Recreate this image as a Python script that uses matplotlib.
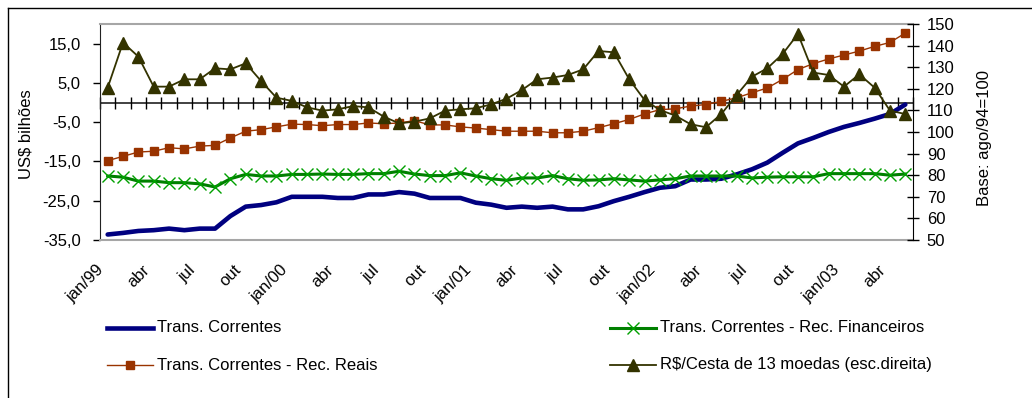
import numpy as np
import matplotlib.pyplot as plt
from matplotlib.lines import Line2D
from matplotlib.ticker import FuncFormatter
import matplotlib.transforms as mtransforms

plt.rcParams['font.family'] = ['Liberation Sans', 'DejaVu Sans']
plt.rcParams['font.size'] = 12

# monthly series, jan/99 .. mai/03
tick_labels = ['jan/99', 'abr', 'jul', 'out', 'jan/00', 'abr', 'jul', 'out',
               'jan/01', 'abr', 'jul', 'out', 'jan/02', 'abr', 'jul', 'out',
               'jan/03', 'abr']

trans_correntes = [-33.6, -33.2, -32.7, -32.5, -32.1, -32.5, -32.1, -32.1, -28.9, -26.5,
                   -26.1, -25.4, -24.0, -24.0, -24.0, -24.3, -24.3, -23.4, -23.4, -22.8,
                   -23.2, -24.3, -24.3, -24.3, -25.5, -26.0, -26.8, -26.5, -26.8, -26.5,
                   -27.2, -27.2, -26.4, -25.1, -24.0, -22.8, -21.7, -21.3, -19.6, -19.6,
                   -19.4, -18.3, -17.0, -15.3, -12.8, -10.4, -9.0, -7.5, -6.2, -5.2,
                   -4.1, -2.9, -0.5]

rec_financeiros = [-18.7, -19.0, -20.0, -20.0, -20.4, -20.4, -20.7, -21.5, -19.4, -18.3,
                   -18.7, -18.7, -18.3, -18.3, -18.2, -18.3, -18.3, -18.1, -18.1, -17.5,
                   -18.2, -18.6, -18.6, -17.9, -18.7, -19.4, -19.8, -19.2, -19.2, -18.6,
                   -19.4, -19.8, -19.7, -19.4, -19.7, -20.0, -19.7, -19.4, -18.7, -18.7,
                   -18.7, -18.7, -19.2, -19.0, -18.9, -18.9, -18.9, -18.1, -18.1, -18.1,
                   -18.1, -18.5, -18.2]

rec_reais = [-14.8, -13.7, -12.6, -12.4, -11.5, -11.8, -11.1, -10.9, -9.0, -7.3,
             -6.9, -6.2, -5.5, -5.6, -5.9, -5.6, -5.6, -5.2, -5.4, -5.2,
             -4.6, -5.7, -5.7, -6.2, -6.5, -6.9, -7.3, -7.3, -7.3, -7.7,
             -7.7, -7.3, -6.4, -5.4, -4.3, -2.9, -1.8, -1.6, -0.9, -0.5,
             0.3, 1.2, 2.5, 3.7, 5.9, 8.4, 9.9, 11.1, 12.1, 13.1,
             14.3, 15.3, 17.7]

cesta_13 = [120.5, 141.4, 134.9, 121.0, 121.0, 124.4, 124.4, 129.5, 129.0, 131.8,
            123.6, 115.9, 114.4, 111.4, 109.9, 110.5, 112.0, 111.4, 107.1, 104.0,
            104.8, 106.3, 109.9, 110.5, 111.0, 112.8, 115.4, 119.4, 124.4, 125.2,
            126.4, 129.0, 137.5, 136.9, 124.4, 114.8, 110.2, 107.6, 103.6, 102.2,
            108.3, 117.1, 125.6, 129.5, 136.1, 145.4, 127.5, 126.4, 121.0, 126.7,
            120.5, 109.9, 108.3]

W, H = 1032, 398


def fx(px):
    return px / W


def fy(py):
    return 1 - py / H


fig = plt.figure(figsize=(W / 100, H / 100), dpi=100)
fig.patch.set_facecolor('white')

# chart frame (left and top edges)
fig.add_artist(Line2D([fx(8), 1], [fy(8), fy(8)], color='black', lw=1))
fig.add_artist(Line2D([fx(8), fx(8)], [fy(8), 0], color='black', lw=1))

ax = fig.add_axes([fx(100), fy(240), (913 - 100) / W, (240 - 24) / H])
x = np.arange(len(trans_correntes))

ax.plot(x, trans_correntes, color='#000080', lw=3.3, solid_capstyle='round', zorder=3)
ax.plot(x, rec_financeiros, color='#008000', lw=2.2, marker='x', ms=8.5,
        mec='#00a000', mew=1.0, zorder=4)
ax.plot(x, rec_reais, color='#993300', lw=1.0, marker='s', ms=6.3,
        mec='#993300', mfc='#993300', zorder=5)

ax.set_xlim(-0.5, len(x) - 0.5)
ax.set_ylim(-35, 20)
ax.set_yticks(np.arange(-35, 20, 10))
ax.yaxis.set_major_formatter(FuncFormatter(lambda v, p: f'{v:.1f}'.replace('.', ',')))
ax.tick_params(axis='y', direction='out', length=5, width=1, pad=9, labelsize=12)

# category axis through zero, ticks between months
ax.axhline(0, color='#333333', lw=1.3, zorder=2)
bounds = np.arange(len(x) + 1) - 0.5
ax.plot(bounds, np.zeros_like(bounds), ls='none', marker='|', ms=8.5, mew=1.0,
        color='black', zorder=2, clip_on=False)

ax.set_xticks(x[::3])
ax.set_xticklabels(tick_labels)
ax.tick_params(axis='x', length=0, pad=0, labelsize=12)
offset = mtransforms.ScaledTranslation(-12 / 100, -22 / 100, fig.dpi_scale_trans)
for lbl in ax.get_xticklabels():
    lbl.set_rotation(45)
    lbl.set_ha('right')
    lbl.set_va('top')
    lbl.set_rotation_mode('anchor')
    lbl.set_transform(lbl.get_transform() + offset)

for side in ['top', 'bottom']:
    ax.spines[side].set_color('#a6a6a6')
    ax.spines[side].set_linewidth(1.5)
ax.spines['left'].set_color('#222222')
ax.spines['right'].set_visible(False)

ax2 = ax.twinx()
ax2.plot(x, cesta_13, color='#333300', lw=1.3, marker='^', ms=8.5,
         mec='#333300', mfc='#333300', zorder=6)
ax2.set_ylim(50, 150)
ax2.set_yticks(np.arange(50, 151, 10))
ax2.tick_params(axis='y', direction='inout', length=8, width=1, pad=6, labelsize=12)
ax2.spines['right'].set_color('black')
for side in ['top', 'bottom', 'left']:
    ax2.spines[side].set_visible(False)

fig.text(fx(26), fy(134), 'US$ bilhões', rotation=90, ha='center', va='center', fontsize=12)
fig.text(fx(985), fy(138), 'Base: ago/94=100', rotation=90, ha='center', va='center', fontsize=12)

# legend, two columns
entries = [
    (107, 328, dict(color='#000080', lw=3.3), None, 'Trans. Correntes'),
    (107, 365, dict(color='#993300', lw=1.0),
     dict(marker='s', ms=6.3, color='#993300'), 'Trans. Correntes - Rec. Reais'),
    (610, 328, dict(color='#008000', lw=2.2),
     dict(marker='x', ms=8.5, mew=1.0, color='#00a000'), 'Trans. Correntes - Rec. Financeiros'),
    (610, 365, dict(color='#333300', lw=1.3),
     dict(marker='^', ms=8, color='#333300'), 'R$/Cesta de 13 moedas (esc.direita)'),
]
for px, py, line_kw, mark_kw, label in entries:
    fig.add_artist(Line2D([fx(px), fx(px + 46)], [fy(py), fy(py)], **line_kw))
    if mark_kw:
        fig.add_artist(Line2D([fx(px + 23)], [fy(py)], ls='none', **mark_kw))
    fig.text(fx(px + 50), fy(py), label, ha='left', va='center', fontsize=12)

fig.savefig('out.png', dpi=100)
